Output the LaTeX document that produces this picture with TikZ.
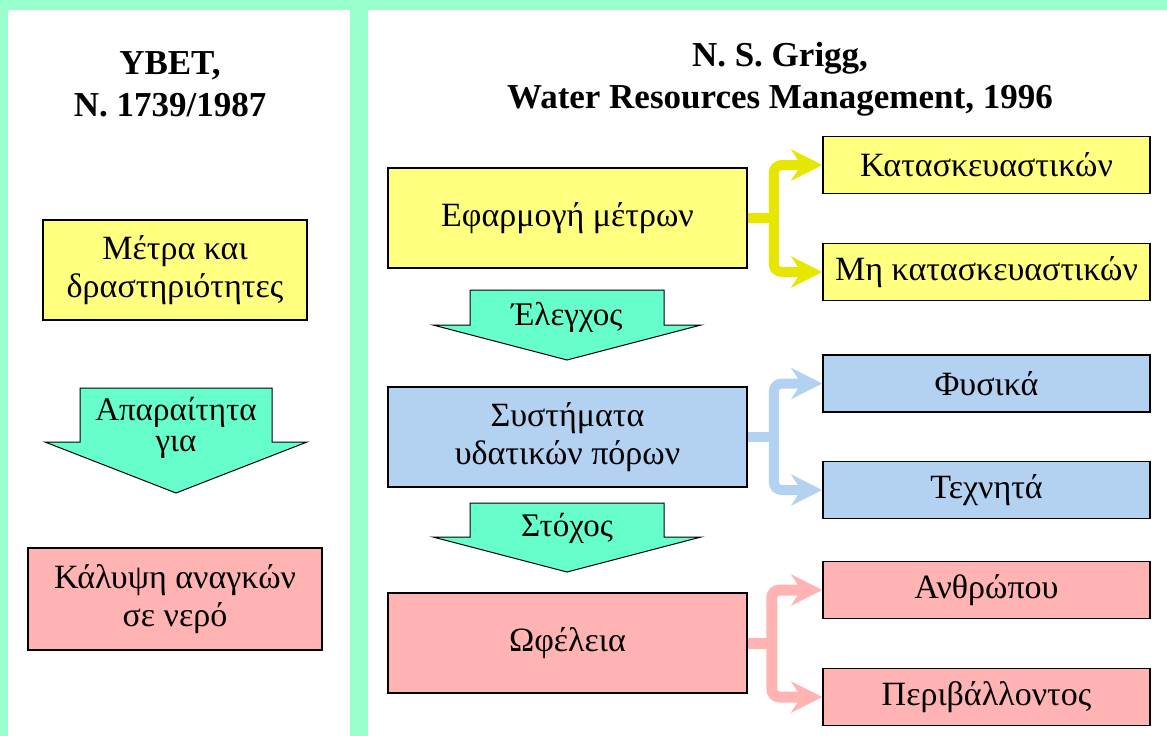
\documentclass[tikz,border=0pt]{standalone}
\usepackage{fontspec}
\setmainfont{Liberation Serif}
\usetikzlibrary{arrows.meta,positioning,calc}

\definecolor{framegreen}{HTML}{99FFCC}
\definecolor{arrowgreen}{HTML}{66FFCC}
\definecolor{boxyellow}{HTML}{FFFF80}
\definecolor{linkyellow}{HTML}{E6E600}
\definecolor{boxblue}{HTML}{B3D1F0}
\definecolor{boxpink}{HTML}{FFB3B3}

\tikzset{
  box/.style={draw=black, line width=1.5pt, inner sep=0pt, align=center, font=\fontsize{34}{38}\selectfont},
  bigbox/.style={box, minimum width=359pt, minimum height=100pt},
  smallbox/.style={box, minimum width=327pt, minimum height=57pt},
  downarrow/.style={draw=black, line width=1pt, fill=arrowgreen},
  arrowtext/.style={align=center, font=\fontsize{33}{31}\selectfont},
  heading/.style={align=center, font=\bfseries\fontsize{35}{42}\selectfont},
  link/.style={line width=10pt, rounded corners=8pt},
  twotips/.style={{Stealth[length=31pt,width=31pt,inset=10pt]}-{Stealth[length=31pt,width=31pt,inset=10pt]}}
}

\begin{document}
\begin{tikzpicture}[x=1pt,y=-1pt]
        \useasboundingbox (0,0) rectangle (1167,736);
        \fill[framegreen] (0,0) rectangle (1167,736);
        \fill[white] (8,10) rectangle (350,736);
        \fill[white] (368,10) rectangle (1167,736);

        \node[heading] (lawhead) at (170,84) {ΥΒΕΤ,\\N. 1739/1987};
        \node[heading] (grigghead) at (780,79) {N. S. Grigg,\\Water Resources Management, 1996};

        \node[box, fill=boxyellow, minimum width=264pt, minimum height=100pt] (measures) at (175,270) {Μέτρα και\\δραστηριότητες};
        \draw[downarrow] (80,388) -- (272,388) -- (272,442) -- (307,442) -- (176,493) -- (45,442) -- (80,442) -- cycle;
        \node[arrowtext] (needed) at (176,428) {Απαραίτητα\\για};
        \node[box, fill=boxpink, minimum width=294pt, minimum height=102pt] (cover) at (175,599) {Κάλυψη αναγκών\\σε νερό};

        \node[bigbox, fill=boxyellow] (apply) at (567.5,218) {Εφαρμογή μέτρων};
        \draw[downarrow] (470,290) -- (664,290) -- (664,325) -- (701,325) -- (567,360) -- (433,325) -- (470,325) -- cycle;
        \node[arrowtext] (control) at (567,317) {Έλεγχος};
        \node[bigbox, fill=boxblue] (wrs) at (567.5,437) {Συστήματα\\υδατικών πόρων};
        \draw[downarrow] (470,503) -- (664,503) -- (664,537) -- (701,537) -- (567,572) -- (433,537) -- (470,537) -- cycle;
        \node[arrowtext] (target) at (567,528) {Στόχος};
        \node[bigbox, fill=boxpink] (benefit) at (567.5,643) {Ωφέλεια};

        \node[smallbox, fill=boxyellow] (struct) at (986.5,165) {Κατασκευαστικών};
        \node[smallbox, fill=boxyellow] (nonstruct) at (986.5,272) {Μη κατασκευαστικών};
        \node[smallbox, fill=boxblue] (natural) at (986.5,383.5) {Φυσικά};
        \node[smallbox, fill=boxblue] (artificial) at (986.5,490) {Τεχνητά};
        \node[smallbox, fill=boxpink] (human) at (986.5,590) {Ανθρώπου};
        \node[smallbox, fill=boxpink] (environ) at (986.5,697) {Περιβάλλοντος};

        \coordinate[right=26pt of apply.east] (applyj);
        \coordinate[right=26pt of wrs.east] (wrsj);
        \coordinate[right=24pt of benefit.east] (benefitj);
        \draw[link, draw=linkyellow] (apply.east) -- (applyj);
        \draw[link, draw=linkyellow, twotips] (struct.west) -| (applyj) |- (nonstruct.west);
        \draw[link, draw=boxblue] (wrs.east) -- (wrsj);
        \draw[link, draw=boxblue, twotips] (natural.west) -| (wrsj) |- (artificial.west);
        \draw[link, draw=boxpink, line width=11pt] (benefit.east) -- (benefitj);
        \draw[link, draw=boxpink, line width=11pt, twotips] (human.west) -| (benefitj) |- (environ.west);
\end{tikzpicture}
\end{document}
